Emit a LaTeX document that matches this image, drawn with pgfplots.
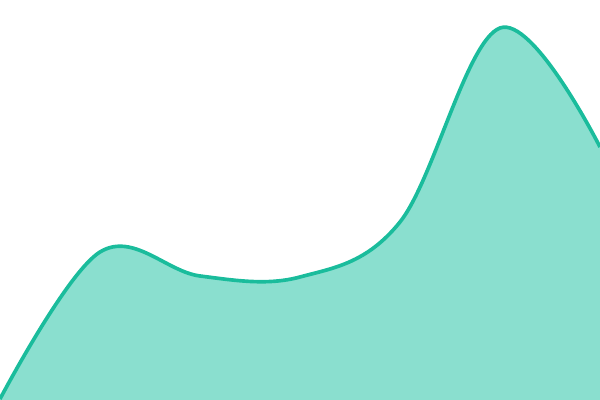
\documentclass[border=0pt]{standalone}
\usepackage{pgfplots}
\pgfplotsset{compat=1.18}
\definecolor{teal1}{HTML}{1ABC9C}
\definecolor{teal2}{HTML}{8ADFCF}
\pgfplotstableread{
x y
0 1
100 148
200 124
300 123
400 178
500 372
600 253
}\curve
\begin{document}
\begin{tikzpicture}
\begin{axis}[
  name=ax,
  scale only axis,
  width=15cm, height=10cm,
  xmin=0, xmax=600, ymin=0, ymax=400,
  hide axis, clip=true,
  ]
  % area
  \addplot[draw=none, fill=teal2, smooth, tension=0.6] table {\curve} \closedcycle;
  % outline
  \addplot[teal1, line width=2.6pt, smooth, tension=0.6] table {\curve};
\end{axis}
\pgfresetboundingbox
\useasboundingbox (ax.south west) rectangle (ax.north east);
\end{tikzpicture}
\end{document}
